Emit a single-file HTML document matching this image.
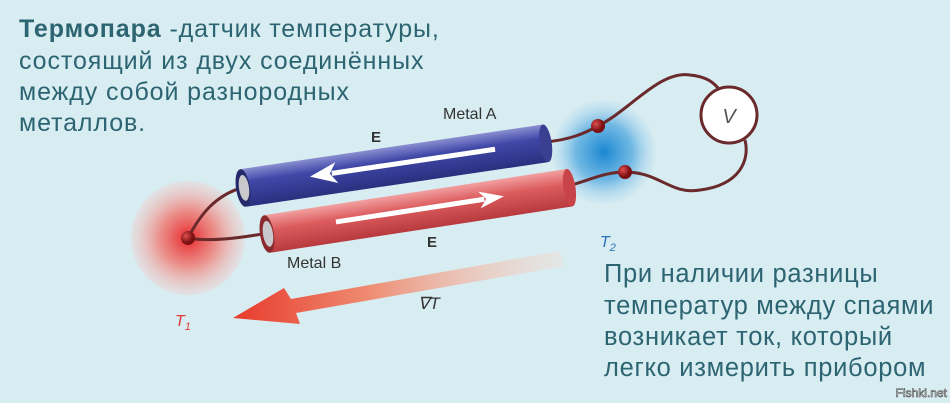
<!DOCTYPE html>
<html><head><meta charset="utf-8"><style>
body{margin:0;background:#d8edf1;}
svg{display:block}
</style></head><body>
<svg width="950" height="403" viewBox="0 0 950 403" xmlns="http://www.w3.org/2000/svg">
<defs>
<radialGradient id="rg"><stop offset="0" stop-color="#e8262a"/><stop offset="0.5" stop-color="#f07a72" stop-opacity="0.8"/><stop offset="1" stop-color="#f6c6c4" stop-opacity="0.3"/></radialGradient>
<radialGradient id="bg"><stop offset="0" stop-color="#1a86d0"/><stop offset="0.55" stop-color="#5fb0e2" stop-opacity="0.85"/><stop offset="1" stop-color="#c6e2f1" stop-opacity="0.3"/></radialGradient>
<linearGradient id="ca" x1="0" y1="0" x2="0" y2="1"><stop offset="0" stop-color="#8a8ed0"/><stop offset="0.35" stop-color="#4048a8"/><stop offset="1" stop-color="#2a2f7e"/></linearGradient>
<linearGradient id="cb" x1="0" y1="0" x2="0" y2="1"><stop offset="0" stop-color="#f2a0a0"/><stop offset="0.4" stop-color="#dc5c5e"/><stop offset="1" stop-color="#b83a3e"/></linearGradient>
<linearGradient id="ar" x1="1" y1="0" x2="0" y2="0"><stop offset="0" stop-color="#f8d8cc" stop-opacity="0.3"/><stop offset="0.6" stop-color="#ee8a70"/><stop offset="1" stop-color="#e83a2c"/></linearGradient>
<radialGradient id="dot" cx="0.35" cy="0.35"><stop offset="0" stop-color="#e05050"/><stop offset="1" stop-color="#7a0f12"/></radialGradient>
</defs>
<circle cx="188" cy="238" r="57" fill="url(#rg)"/>
<circle cx="604" cy="152" r="52" fill="url(#bg)"/>
<g fill="none" stroke="#6a2a2c" stroke-width="3">
<path d="M244 187 C215 195 200 215 188 238"/>
<path d="M268 233 C240 238 210 242 188 238"/>
<path d="M545 142 C570 140 585 133 598 126 C630 110 660 70 690 75 C710 77 715 85 720 90"/>
<path d="M568 186 C590 180 605 172 625 172 C660 172 670 195 700 190 C740 185 750 160 745 140"/>
</g>
<circle cx="729" cy="115" r="28" fill="#fff" stroke="#6a2a2c" stroke-width="3"/>
<text x="729" y="123" font-family="Liberation Sans,sans-serif" font-style="italic" font-size="20" fill="#555" text-anchor="middle">V</text>
<g transform="translate(267,234) rotate(-8.7)">
<rect x="0" y="-19" width="306" height="38" fill="url(#cb)" rx="2"/>
<ellipse cx="306" cy="0" rx="6" ry="19" fill="#c84448"/>
<ellipse cx="0" cy="0" rx="7" ry="19" fill="#8b2a2e"/>
<ellipse cx="1" cy="0" rx="5" ry="13" fill="#c9c9cc"/>
<rect x="70" y="-4" width="150" height="5" fill="#fff"/>
<path d="M215 -10 L240 -1.5 L215 7 L222 -1.5Z" fill="#fff"/>
</g>
<g transform="translate(243,188) rotate(-8.4)">
<rect x="0" y="-19" width="306" height="38" fill="url(#ca)" rx="2"/>
<ellipse cx="306" cy="0" rx="6" ry="19" fill="#3a3f92"/>
<ellipse cx="0" cy="0" rx="7" ry="19" fill="#25296a"/>
<ellipse cx="1" cy="0" rx="5" ry="13" fill="#c9c9cc"/>
<rect x="90" y="-4" width="165" height="5" fill="#fff"/>
<path d="M95 -12 L68 -1.5 L95 9 L88 -1.5Z" fill="#fff"/>
</g>
<path d="M560 251 L565 266 L296 313 L300 324 L233 318 L284 288 L291 299Z" fill="url(#ar)"/>
<circle cx="188" cy="238" r="7" fill="url(#dot)"/>
<circle cx="598" cy="126" r="7" fill="url(#dot)"/>
<circle cx="625" cy="172" r="7" fill="url(#dot)"/>
<g font-family="Liberation Sans,sans-serif" fill="#333">
<text x="443" y="119" font-size="16">Metal A</text>
<text x="287" y="268" font-size="16">Metal B</text>
<text x="371" y="142" font-size="15" font-weight="bold">E</text>
<text x="427" y="247" font-size="15" font-weight="bold">E</text>
<text x="418" y="309" font-size="17" font-style="italic">∇T</text>
<text x="175" y="326" font-size="16" font-style="italic" fill="#e03a3a">T<tspan font-size="11" dy="4">1</tspan></text>
<text x="600" y="247" font-size="16" font-style="italic" fill="#2a72b8">T<tspan font-size="11" dy="4">2</tspan></text>
</g>
<g font-family="Liberation Sans,sans-serif" fill="#2c6472" font-size="25" letter-spacing="0.9">
<text x="19" y="37"><tspan font-weight="bold">Термопара</tspan> -датчик температуры,</text>
<text x="19" y="69">состоящий из двух соединённых</text>
<text x="19" y="100">между собой разнородных</text>
<text x="19" y="131">металлов.</text>
</g>
<g font-family="Liberation Sans,sans-serif" fill="#2c6472" font-size="25.5" letter-spacing="0.7">
<text x="604" y="282">При наличии разницы</text>
<text x="604" y="314">температур между спаями</text>
<text x="604" y="345">возникает ток, который</text>
<text x="604" y="376">легко измерить прибором</text>
</g>
<text x="947" y="397" font-family="Liberation Sans,sans-serif" font-size="12" fill="#fff" stroke="#444" stroke-width="0.6" text-anchor="end">Fishki.net</text>
</svg>
</body></html>
